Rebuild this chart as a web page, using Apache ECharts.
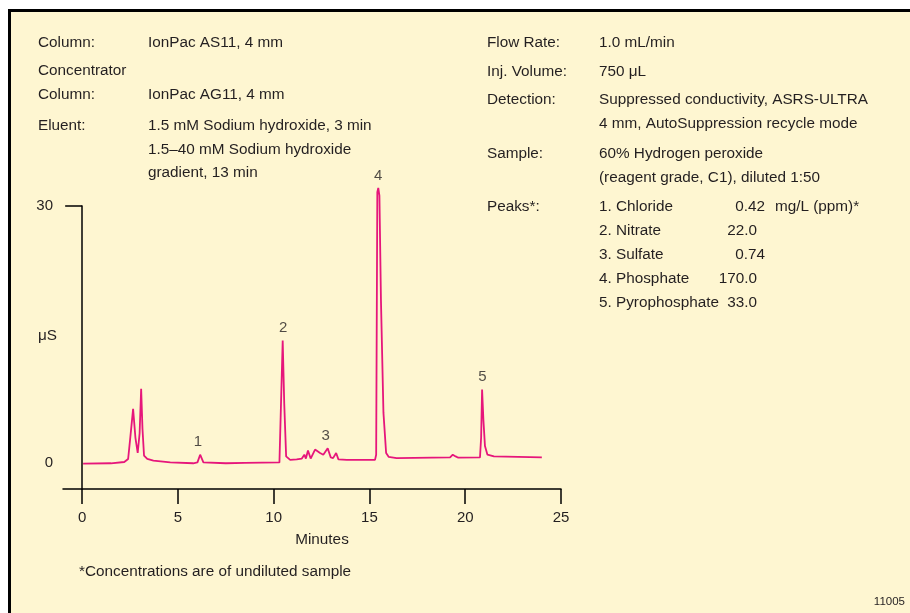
<!DOCTYPE html>
<html>
<head>
<meta charset="utf-8">
<script src="https://cdn.jsdelivr.net/npm/echarts@6/dist/echarts.min.js"></script>
<style>
  html, body { margin: 0; padding: 0; background: #ffffff; }
  #chart { width: 910px; height: 613px; }
</style>
</head>
<body>
<div id="chart"></div>
<script>
// Chromatogram trace: retention time (min) and conductivity (µS)
const traceTimes = [
  0.05, 1.5, 2.2, 2.4, 2.5, 2.58, 2.66, 2.78, 2.9, 3.0, 3.08, 3.15, 3.23, 3.4, 3.72, 4.6,
  5.8, 6.02, 6.16, 6.33, 7.5, 8.5, 10.3, 10.4, 10.47, 10.55, 10.65, 10.86, 11.2, 11.47,
  11.6, 11.68, 11.79, 11.93, 12.16, 12.42, 12.59, 12.82, 12.98, 13.1, 13.26, 13.38, 13.82,
  15.29, 15.35, 15.41, 15.46, 15.52, 15.6, 15.73, 15.87, 16.0, 16.42, 19.21, 19.35, 19.5, 19.64,
  20.77, 20.83, 20.88, 20.95, 21.03, 21.16, 21.5, 24.0
];
const traceValues = [
  -0.05, 0.0, 0.15, 0.5, 2.7, 4.5, 6.35, 3.0, 1.2, 3.5, 8.7, 4.0, 0.9, 0.5, 0.3, 0.1,
  0.0, 0.1, 1.0, 0.1, 0.0, 0.05, 0.1, 0.3, 14.3, 7.0, 0.8, 0.4, 0.45, 0.55,
  1.0, 0.55, 1.5, 0.55, 1.6, 1.2, 1.0, 1.74, 0.68, 0.6, 1.2, 0.45, 0.4,
  0.4, 1.0, 31.6, 32.1, 31.2, 19.0, 5.9, 1.2, 0.75, 0.6, 0.68, 1.0, 0.8, 0.65,
  0.68, 3.0, 8.6, 5.0, 2.0, 1.0, 0.8, 0.68
];

// Numbered peak markers
const peakNumbers = ['1', '2', '3', '4', '5'];
const peakTimes = [6.05, 10.49, 12.72, 15.45, 20.9];
const peakHeights = [1.0, 14.3, 1.74, 32.1, 8.6];

// Axis ticks
const xTicks = [0, 5, 10, 15, 20, 25];
const yLabels = [0, 30];
const yTicks = [30];

// Method conditions
const leftRows = [
  ['Column:', 'IonPac AS11, 4 mm', 43],
  ['Concentrator', '', 71],
  ['Column:', 'IonPac AG11, 4 mm', 95],
  ['Eluent:', '1.5 mM Sodium hydroxide, 3 min', 126],
  ['', '1.5–40 mM Sodium hydroxide', 150],
  ['', 'gradient, 13 min', 173]
];
const rightRows = [
  ['Flow Rate:', '1.0 mL/min', 43],
  ['Inj. Volume:', '750 μL', 72],
  ['Detection:', 'Suppressed conductivity, ASRS-ULTRA', 100],
  ['', '4 mm, AutoSuppression recycle mode', 124],
  ['Sample:', '60% Hydrogen peroxide', 154],
  ['', '(reagent grade, C1), diluted 1:50', 178],
  ['Peaks*:', '', 207]
];
const peakNames = ['1. Chloride', '2. Nitrate', '3. Sulfate', '4. Phosphate', '5. Pyrophosphate'];
const peakConc = ['0.42', '22.0', '0.74', '170.0', '33.0'];
const concUnit = 'mg/L (ppm)*';

const FAMILY = '"Liberation Sans", Arial, sans-serif';
const FONT = '15.3px ' + FAMILY;
const INK = '#231f20';
const TRACE = '#e6167b';

const chart = echarts.init(document.getElementById('chart'), null, { renderer: 'canvas' });

function txt(text, x, y, align, font) {
  return {
    type: 'text',
    z: 10,
    style: {
      text: text, x: x, y: y,
      align: align || 'left', verticalAlign: 'middle',
      font: font || FONT, fill: INK
    }
  };
}

const graphics = [
  {
    type: 'rect', z: -10, silent: true,
    shape: { x: 9.5, y: 10.5, width: 930, height: 640 },
    style: { fill: '#fef6d1', stroke: '#000000', lineWidth: 3 }
  }
];
leftRows.forEach(r => {
  if (r[0]) graphics.push(txt(r[0], 38, r[2]));
  if (r[1]) graphics.push(txt(r[1], 148, r[2]));
});
rightRows.forEach(r => {
  if (r[0]) graphics.push(txt(r[0], 487, r[2]));
  if (r[1]) graphics.push(txt(r[1], 599, r[2]));
});
const concRight = [765, 757, 765, 757, 757];
const rowY = [207, 231, 255, 279, 303];
peakNames.forEach((n, i) => {
  graphics.push(txt(n, 599, rowY[i]));
  graphics.push(txt(peakConc[i], concRight[i], rowY[i], 'right'));
});
graphics.push(txt(concUnit, 775, rowY[0]));
graphics.push(txt('μS', 38, 336));
graphics.push(txt('Minutes', 322, 540, 'center'));
graphics.push(txt('*Concentrations are of undiluted sample', 79, 572));
graphics.push(txt('11005', 905, 602, 'right', '11.5px ' + FAMILY));

const option = {
  backgroundColor: '#ffffff',
  animation: false,
  graphic: graphics,
  grid: { left: 63, right: 349, top: 206, bottom: 124 },
  xAxis: {
    type: 'value',
    min: -1, max: 25,
    splitLine: { show: false },
    axisLine: { onZero: false, lineStyle: { color: '#000', width: 1.5 } },
    axisTick: { customValues: xTicks, length: 15, lineStyle: { color: '#000', width: 1.5 } },
    axisLabel: { customValues: xTicks, margin: 21, color: INK, fontSize: 15, fontFamily: FAMILY }
  },
  yAxis: {
    type: 'value',
    min: -3, max: 30,
    splitLine: { show: false },
    axisLine: { show: true, onZero: true, lineStyle: { color: '#000', width: 1.5 } },
    axisTick: { show: true, customValues: yTicks, length: 17, lineStyle: { color: '#000', width: 1.5 } },
    axisLabel: { customValues: yLabels, margin: 10, color: INK, fontSize: 15, fontFamily: FAMILY }
  },
  series: [
    {
      type: 'line',
      data: traceTimes.map((t, i) => [t, traceValues[i]]),
      showSymbol: false,
      clip: false,
      lineStyle: { color: TRACE, width: 1.8 },
      z: 3
    },
    {
      type: 'scatter',
      data: peakTimes.map((t, i) => ({ value: [t, peakHeights[i]], name: peakNumbers[i] })),
      symbolSize: 0,
      clip: false,
      label: {
        show: true, position: 'top', distance: 5,
        formatter: p => p.name,
        color: INK, fontSize: 15, fontFamily: FAMILY
      },
      z: 4
    }
  ]
};
chart.setOption(option);
</script>
</body>
</html>
